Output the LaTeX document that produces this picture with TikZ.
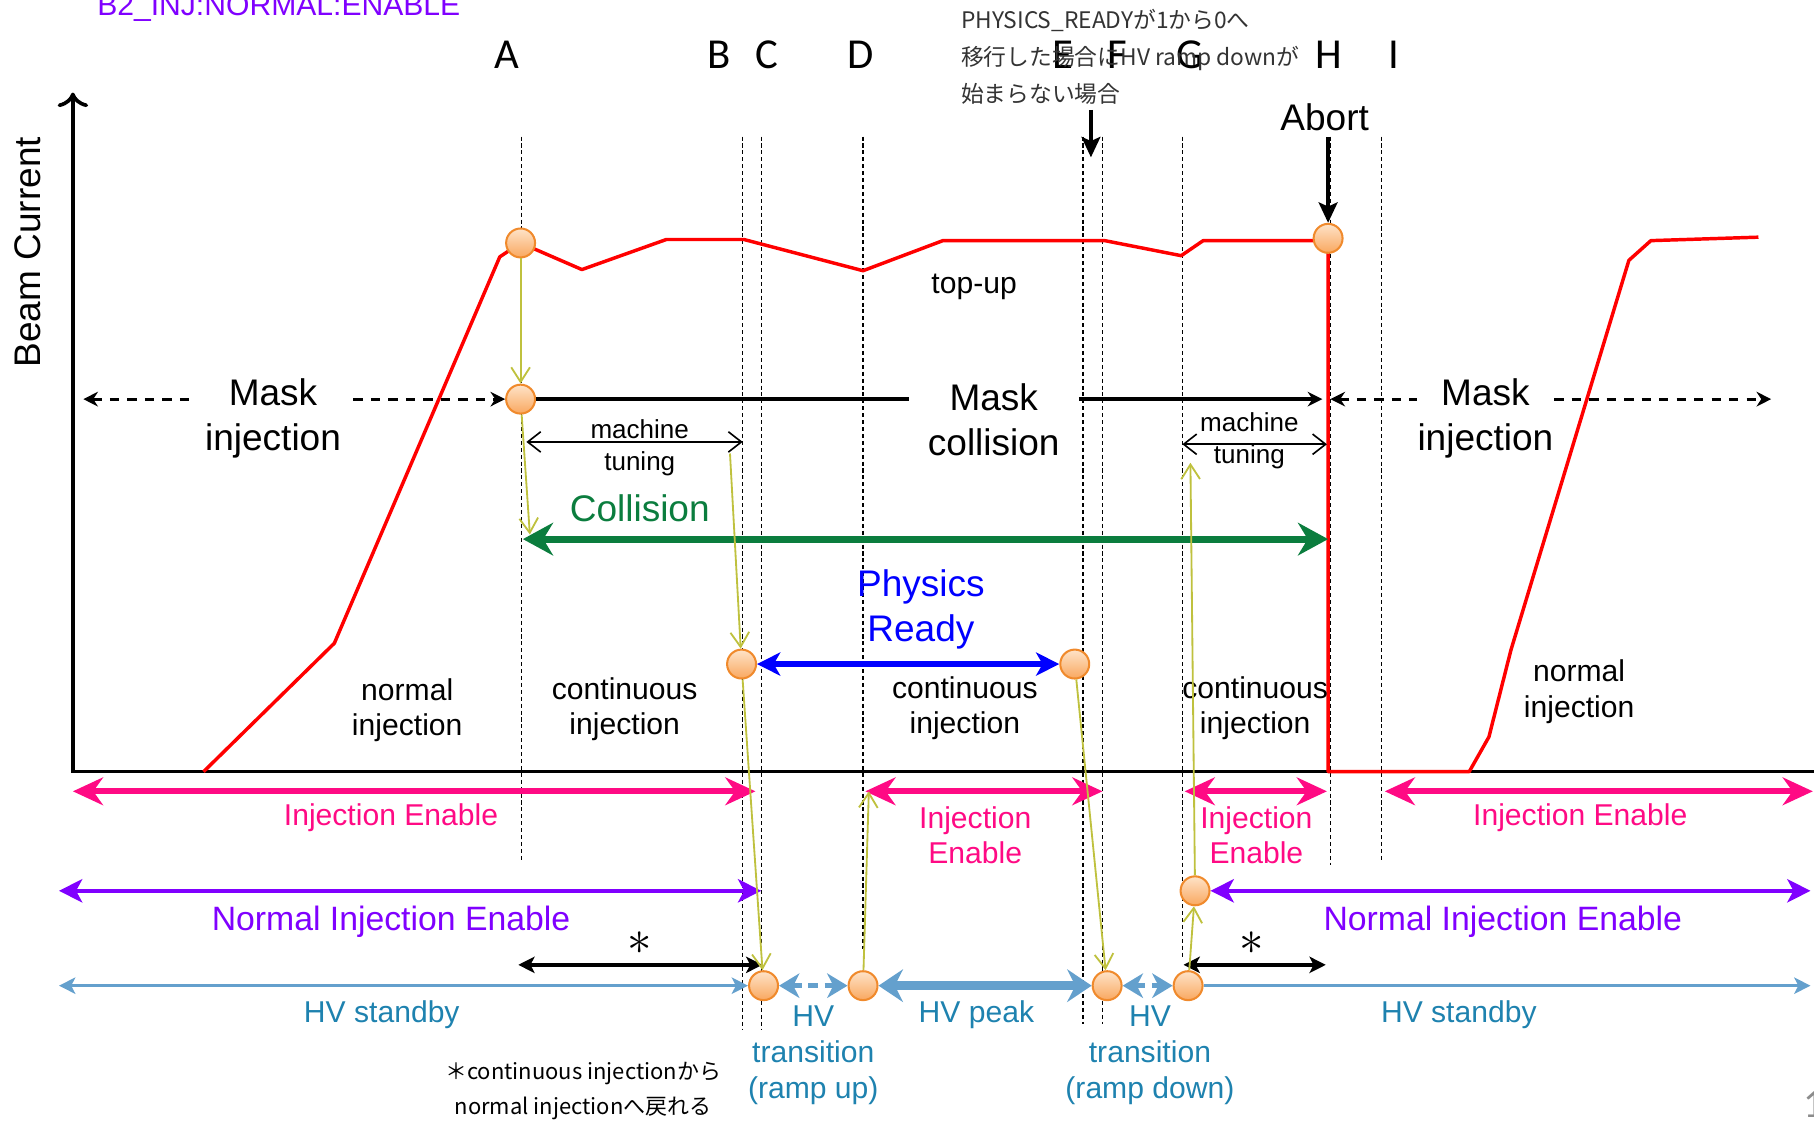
\documentclass[tikz,border=0pt]{standalone}
\usepackage{fontspec}
\setmainfont{Liberation Sans}
\newfontfamily\letterfont{Carlito}
\newfontfamily\jpfont{Noto Sans CJK JP}
\usetikzlibrary{arrows.meta, positioning}
\definecolor{cred}{HTML}{FF0000}
\definecolor{cgreen}{HTML}{0B7D3E}
\definecolor{cblue}{HTML}{0000FF}
\definecolor{cpink}{HTML}{FF0A84}
\definecolor{cpurple}{HTML}{8000FF}
\definecolor{chv}{HTML}{64A0CD}
\definecolor{chvtext}{HTML}{1E82AF}
\definecolor{colive}{HTML}{BFC13E}
\definecolor{cpeach}{HTML}{FEE3C8}
\definecolor{corange}{HTML}{F9A860}
\definecolor{cedge}{HTML}{F08A2C}
\definecolor{cnote}{HTML}{333333}
\definecolor{cgrey}{HTML}{8C8C8C}
\tikzset{
  bigtxt/.style={font=\fontsize{9.1}{11.1}\selectfont, align=center, inner sep=0pt},
  txt/.style={font=\fontsize{7.4}{8.7}\selectfont, align=center, inner sep=0pt},
  smalltxt/.style={font=\fontsize{6.4}{7.7}\selectfont, align=center, inner sep=0pt},
  hvtxt/.style={txt, text=chvtext, font=\fontsize{7.4}{8.8}\selectfont},
  injtxt/.style={txt, text=cpink, font=\fontsize{7.4}{8.8}\selectfont},
  normtxt/.style={txt, text=cpurple, font=\fontsize{8.3}{10}\selectfont},
  letter/.style={font=\letterfont\fontsize{10.5}{12}\selectfont, inner sep=0pt},
  jnote/.style={font=\jpfont\fontsize{5.6}{9.1}\selectfont, align=left, inner sep=0pt, text=cnote},
  event/.style={circle, draw=cedge, line width=0.5pt, top color=cpeach, bottom color=corange, minimum size=0.25cm, inner sep=0pt},
  guide/.style={line width=0.35pt, dash pattern=on 1pt off 0.7pt},
  beam/.style={draw=cred, line width=0.85pt, line join=round},
  axisline/.style={line width=0.9pt, -{Stealth[length=3.5pt, width=3.5pt]}},
  flow/.style={draw=colive, line width=0.45pt, -{Straight Barb[length=3.6pt, width=4.6pt]}},
  maskline/.style={line width=0.9pt, >={Stealth[length=3.6pt, width=3.6pt]}},
  maskdash/.style={maskline, line width=0.7pt, dash pattern=on 2.3pt off 2pt},
  tunearr/.style={line width=0.4pt, <->, >={Straight Barb[length=3.2pt, width=5pt]}},
  bigarr/.style={line width=1.1pt, -{Stealth[length=5pt, width=4.6pt, inset=1pt]}},
  colarr/.style={draw=cgreen, line width=1.7pt, <->, >={Stealth[length=7.4pt, width=8pt, inset=2.4pt]}},
  physarr/.style={draw=cblue, line width=1.4pt, <->, >={Stealth[length=5.7pt, width=5.7pt, inset=1.6pt]}},
  injarr/.style={draw=cpink, line width=1.4pt, <->, >={Stealth[length=7.4pt, width=6.8pt, inset=2.4pt]}},
  normarr/.style={draw=cpurple, line width=1.1pt, <->, >={Stealth[length=5.7pt, width=5.7pt, inset=1.5pt]}},
  stararr/.style={line width=0.85pt, <->, >={Stealth[length=4pt, width=4pt, inset=1pt]}},
  hvthin/.style={draw=chv, line width=0.85pt, >={Stealth[length=4pt, width=4pt, inset=1pt]}},
  hvdash/.style={draw=chv, line width=1.1pt, dash pattern=on 2.3pt off 1.7pt, <->, >={Stealth[length=5pt, width=6pt, inset=1.5pt]}},
  hvpeak/.style={draw=chv, line width=2.2pt, <->, >={Stealth[length=6pt, width=8pt, inset=2pt]}},
}

\begin{document}
\begin{tikzpicture}[x=0.01cm, y=-0.01cm]
  \useasboundingbox (0,0) rectangle (1568,969);
  % time marks
  \foreach \gx/\gy in {451/745, 642/890, 658/890, 746/820, 936/885, 953/885, 1022/828, 1150/748, 1194/745}
    \draw[guide] (\gx,118) -- (\gx,\gy);
  \foreach \lt/\lx in {A/438, B/622, C/663, D/744, E/919, F/966, G/1029, H/1149, I/1205}
    \node[letter] (l\lt) at (\lx,47) {\lt};
  \node[font=\fontsize{7.4}{8}\selectfont, text=cpurple, anchor=base, inner sep=0pt] (pvname) at (241,13) {B2\_INJ:NORMAL:ENABLE};
  \node[font=\letterfont\fontsize{10}{12}\selectfont, text=cgrey, inner sep=0pt] (pageno) at (1568,955) {1};
  % beam current
  \draw[axisline, <-] (63,80) |- (1568,667);
  \node[bigtxt, rotate=90] (ylab) at (24,218) {Beam Current};
  \draw[beam] (176,667) -- (289,556) -- (432,222) -- (450,210) -- (503,233) -- (576,207) -- (643,207)
    -- (746,234) -- (815,208) -- (955,208) -- (1021,221) -- (1040,208) -- (1148,208) -- (1148,667)
    -- (1270,667) -- (1287,637) -- (1306,562) -- (1408,225) -- (1427,208) -- (1520,205);
  % events
  \node[event] (pA1) at (450,210) {};
  \node[event] (pA2) at (450,345) {};
  \node[event] (pB) at (641,574) {};
  \node[event] (pE) at (929,574) {};
  \node[event] (pH) at (1148,206) {};
  \node[event] (pC) at (660,852) {};
  \node[event] (pD) at (746,852) {};
  \node[event] (pF) at (957,852) {};
  \node[event] (pG) at (1027,852) {};
  \node[event] (pGn) at (1033,770) {};
  % upper labels
  \node[jnote, anchor=west] (jn) at (830,49) {PHYSICS\_READYが1から0へ\\移行した場合にHV ramp downが\\始まらない場合};
  \coordinate (jnA) at (943,95);
  \coordinate (jnB) at (943,136);
  \draw[bigarr] (jnA) -- (jnB);
  \node[bigtxt] (abort) at (1145,101) {Abort};
  \draw[bigarr] ([yshift=-0.05cm]abort.south -| pH) -- (pH);
  \node[txt] (topup) at (842,248) {top-up};
  % masks
  \node[bigtxt, inner xsep=0.1cm] (mil) at (236,362) {Mask\\injection};
  \coordinate (miLa) at (72,345);
  \draw[maskdash, <-] (miLa) -- (mil.west |- pA2);
  \draw[maskdash, ->] (mil.east |- pA2) -- (pA2);
  \node[bigtxt, inner xsep=0.16cm] (mcol) at (859,363) {Mask\\collision};
  \coordinate (mcR) at (1143,345);
  \draw[maskline] (pA2) -- (mcol.west |- pA2);
  \draw[maskline, ->] (mcol.east |- pA2) -- (mcR);
  \node[bigtxt] (mir) at (1284,362) {Mask\\injection};
  \coordinate (miRa) at (1150,345);
  \coordinate (miRb) at (1531,345);
  \draw[maskdash, <-] (miRa) -- (mir.west |- miRa);
  \draw[maskdash, ->] (mir.east |- miRa) -- (miRb);
  % machine tuning
  \coordinate (mtLa) at (455,382);
  \coordinate (mtLb) at (642,382);
  \draw[tunearr] (mtLa) -- (mtLb);
  \node[smalltxt] (mtl) at (553,387) {machine\\tuning};
  \coordinate (mtRa) at (1022,384);
  \coordinate (mtRb) at (1147,384);
  \draw[tunearr] (mtRa) -- (mtRb);
  \node[smalltxt] (mtr) at (1080,381) {machine\\tuning};
  % collision, physics ready
  \coordinate (colL) at (452,466);
  \coordinate (colR) at (1148,466);
  \draw[colarr] (colL) -- (colR);
  \node[bigtxt, text=cgreen] (coltxt) at (553,439) {Collision};
  \draw[physarr] (pB) -- (pE);
  \node[bigtxt, text=cblue] (phys) at (796,527) {Physics\\Ready};
  % injection modes
  \node[txt] (ni1) at (352,614) {normal\\injection};
  \node[txt] (ci1) at (540,613) {continuous\\injection};
  \node[txt] (ci2) at (834,612) {continuous\\injection};
  \node[txt] (ci3) at (1085,612) {continuous\\injection};
  \node[txt] (ni2) at (1365,598) {normal\\injection};
  % injection enable
  \coordinate (ie1a) at (63,684);
  \coordinate (ie1b) at (653,684);
  \coordinate (ie2a) at (748,684);
  \coordinate (ie2b) at (953,684);
  \coordinate (ie3a) at (1024,684);
  \coordinate (ie3b) at (1147,684);
  \coordinate (ie4a) at (1197,684);
  \coordinate (ie4b) at (1567,684);
  \draw[injarr] (ie1a) -- (ie1b);
  \draw[injarr] (ie2a) -- (ie2b);
  \draw[injarr] (ie3a) -- (ie3b);
  \draw[injarr] (ie4a) -- (ie4b);
  \node[injtxt] (ie1) at (338,707) {Injection Enable};
  \node[injtxt] (ie2) at (843,722) {Injection\\Enable};
  \node[injtxt] (ie3) at (1086,722) {Injection\\Enable};
  \node[injtxt] (ie4) at (1366,707) {Injection Enable};
  % normal injection enable
  \coordinate (ne1a) at (51,770);
  \coordinate (ne1b) at (658,770);
  \coordinate (ne2b) at (1565,770);
  \draw[normarr] (ne1a) -- (ne1b);
  \draw[normarr] (pGn) -- (ne2b);
  \node[normtxt] (ne1) at (338,797) {Normal Injection Enable};
  \node[normtxt] (ne2) at (1299,797) {Normal Injection Enable};
  % back to normal injection
  \coordinate (st1a) at (448,834);
  \coordinate (st1b) at (659,834);
  \coordinate (st2a) at (1023,834);
  \coordinate (st2b) at (1146,834);
  \draw[stararr] (st1a) -- (st1b);
  \draw[stararr] (st2a) -- (st2b);
  \node[font=\fontsize{13}{13}\selectfont, inner sep=0pt] (st1) at (553,815) {$\ast$};
  \node[font=\fontsize{13}{13}\selectfont, inner sep=0pt] (st2) at (1082,815) {$\ast$};
  \node[font=\jpfont\fontsize{5.4}{8.8}\selectfont, align=center, inner sep=0pt] (stnote) at (504,943) {＊continuous injectionから\\normal injectionへ戻れる};
  % HV
  \coordinate (hv1a) at (51,852);
  \coordinate (hv2b) at (1565,852);
  \draw[hvthin, <->] (hv1a) -- (pC);
  \draw[hvdash] (pC) -- (pD);
  \draw[hvpeak] (pD) -- (pF);
  \draw[hvdash] (pF) -- (pG);
  \draw[hvthin, ->] (pG) -- (hv2b);
  \node[hvtxt] (hv1) at (330,877) {HV standby};
  \node[hvtxt] (hvup) at (703,912) {HV\\transition\\(ramp up)};
  \node[hvtxt] (hvpk) at (844,877) {HV peak};
  \node[hvtxt] (hvdn) at (994,912) {HV\\transition\\(ramp down)};
  \node[hvtxt] (hv2) at (1261,877) {HV standby};
  % sequence
  \coordinate (fl2) at (458,462);
  \coordinate (fl3) at (631,392);
  \coordinate (fl5) at (751,684);
  \coordinate (fl8) at (1029,400);
  \draw[flow] (pA1) -- (pA2);
  \draw[flow] (pA2) -- (fl2);
  \draw[flow] (fl3) -- (pB);
  \draw[flow] (pB) -- (pC);
  \draw[flow] (pD) -- (fl5);
  \draw[flow] (pE) -- (pF);
  \draw[flow] (pG) -- (pGn);
  \draw[flow] (pGn) -- (fl8);
\end{tikzpicture}
\end{document}
